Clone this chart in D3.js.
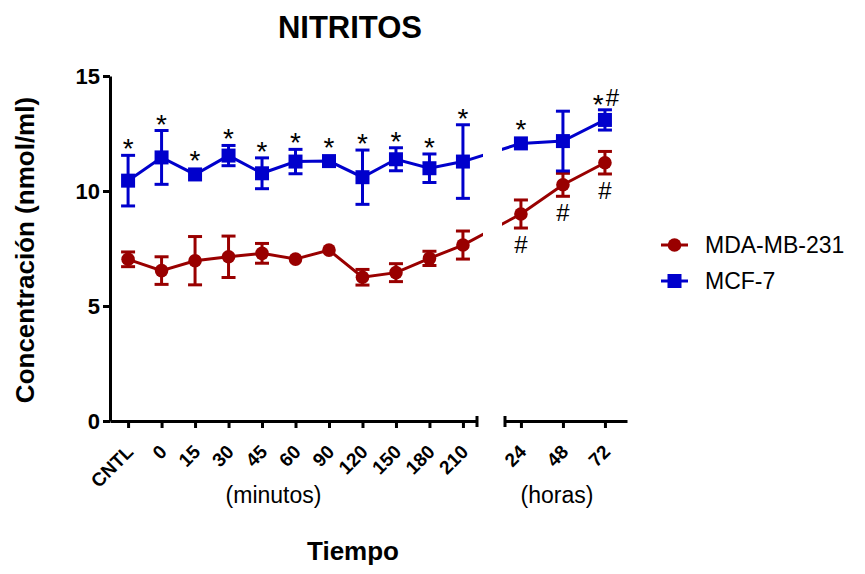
<!DOCTYPE html>
<html>
<head>
<meta charset="utf-8">
<script src="https://cdn.jsdelivr.net/npm/d3@7"></script>
<style>
  body { margin: 0; background: #fff; }
  svg { display: block; font-family: Arial, "Liberation Sans", sans-serif; }
</style>
</head>
<body>
<svg id="chart" width="865" height="574"></svg>
<script>
// x categories: minutes block, then hours block (axis break between them)
const minuteLabels = ["CNTL", "0", "15", "30", "45", "60", "90", "120", "150", "180", "210"];
const hourValues = [24, 48, 72];
const yTicks = [0, 5, 10, 15];

// MDA-MB-231 (mean, SEM)
const mdaMean = [7.03, 6.54, 6.97, 7.14, 7.29, 7.04, 7.43, 6.25, 6.45, 7.07, 7.65, 9.0, 10.27, 11.23];
const mdaErr  = [0.32, 0.6, 1.05, 0.9, 0.43, 0, 0, 0.34, 0.39, 0.31, 0.61, 0.61, 0.5, 0.49];
const mdaSig  = ["", "", "", "", "", "", "", "", "", "", "", "#", "#", "#"];

// MCF-7
const mcfMean = [10.45, 11.46, 10.72, 11.54, 10.77, 11.28, 11.3, 10.6, 11.38, 10.99, 11.28, 12.07, 12.17, 13.09];
const mcfErr  = [1.1, 1.17, 0, 0.44, 0.67, 0.53, 0, 1.18, 0.5, 0.62, 1.6, 0, 1.3, 0.44];
const mcfSig  = ["*", "*", "*", "*", "*", "*", "*", "*", "*", "*", "*", "*", "", "*#"];

const red = "#990000";
const blue = "#0000cc";

const svg = d3.select("#chart");

// scales
const y = d3.scaleLinear().domain([0, 15]).range([421, 76]);
const xMin = d3.scaleLinear().domain([-0.54, 10.42]).range([110, 477]);
const xHr = d3.scaleLinear().domain([14.9, 84.6]).range([505, 627]);

// position of the i-th point across both blocks
const xPos = i => i < minuteLabels.length ? xMin(i) : xHr(hourValues[i - minuteLabels.length]);

// title
svg.append("text")
  .attr("x", 350).attr("y", 38)
  .attr("text-anchor", "middle")
  .attr("font-size", 31).attr("font-weight", "bold")
  .text("NITRITOS");

// y axis
const yAxis = svg.append("g")
  .attr("transform", "translate(110,0)")
  .call(d3.axisLeft(y).tickValues(yTicks).tickSize(7).tickSizeOuter(0).tickPadding(3));
yAxis.selectAll("path, line").attr("stroke", "#000").attr("stroke-width", 3);
yAxis.selectAll("text").attr("font-size", 22).attr("font-weight", "bold")
  .attr("font-family", "Arial, 'Liberation Sans', sans-serif").attr("fill", "#000");

// x axis, minutes
const xAxisMin = svg.append("g")
  .attr("transform", "translate(0,421)")
  .call(d3.axisBottom(xMin).tickValues(d3.range(minuteLabels.length))
    .tickFormat(i => minuteLabels[i]).tickSize(7).tickSizeOuter(0));

// x axis, hours
const xAxisHr = svg.append("g")
  .attr("transform", "translate(0,421)")
  .call(d3.axisBottom(xHr).tickValues(hourValues).tickSize(7).tickSizeOuter(0));

[xAxisMin, xAxisHr].forEach(g => {
  g.selectAll("path, line").attr("stroke", "#000").attr("stroke-width", 3);
  g.selectAll("text")
    .attr("y", null).attr("dy", null)
    .attr("text-anchor", "end")
    .attr("transform", "translate(6,32) rotate(-45)")
    .attr("font-size", 19).attr("font-weight", "bold")
    .attr("font-family", "Arial, 'Liberation Sans', sans-serif").attr("fill", "#000");
});

// break caps at the axis gap
svg.append("g").selectAll("line")
  .data([xMin.range()[1], xHr.range()[0]])
  .join("line")
  .attr("x1", d => d).attr("x2", d => d)
  .attr("y1", 416).attr("y2", 427)
  .attr("stroke", "#000").attr("stroke-width", 3);

// axis titles
svg.append("text")
  .attr("transform", "translate(34,250) rotate(-90)")
  .attr("text-anchor", "middle")
  .attr("font-size", 26).attr("font-weight", "bold")
  .text("Concentración (nmol/ml)");

svg.append("text")
  .attr("x", (xMin(0) + xMin(10)) / 2 - 22).attr("y", 503)
  .attr("text-anchor", "middle").attr("font-size", 23)
  .text("(minutos)");

svg.append("text")
  .attr("x", xHr(48) - 6).attr("y", 503)
  .attr("text-anchor", "middle").attr("font-size", 23)
  .text("(horas)");

svg.append("text")
  .attr("x", 353).attr("y", 560)
  .attr("text-anchor", "middle")
  .attr("font-size", 26).attr("font-weight", "bold")
  .text("Tiempo");

// clip so the connecting line has a gap at the break
const defs = svg.append("defs");
const clip = defs.append("clipPath").attr("id", "gap");
clip.append("rect").attr("x", 0).attr("y", 0).attr("width", 483).attr("height", 574);
clip.append("rect").attr("x", 502).attr("y", 0).attr("width", 363).attr("height", 574);

const series = [
  { name: "MDA-MB-231", mean: mdaMean, err: mdaErr, sig: mdaSig, color: red, shape: "circle" },
  { name: "MCF-7", mean: mcfMean, err: mcfErr, sig: mcfSig, color: blue, shape: "square" }
];

const line = d3.line().x((d, i) => xPos(i)).y(d => y(d));
const capW = 7;

series.forEach(s => {
  const g = svg.append("g");

  g.append("path")
    .datum(s.mean)
    .attr("clip-path", "url(#gap)")
    .attr("fill", "none")
    .attr("stroke", s.color)
    .attr("stroke-width", 3)
    .attr("d", line);

  const pts = s.mean.map((m, i) => ({ i, m, e: s.err[i], sig: s.sig[i] }));

  // error bars
  const eb = g.selectAll(".eb").data(pts.filter(d => d.e > 0)).join("g")
    .attr("stroke", s.color).attr("stroke-width", 3);
  eb.append("line")
    .attr("x1", d => xPos(d.i)).attr("x2", d => xPos(d.i))
    .attr("y1", d => y(d.m + d.e)).attr("y2", d => y(d.m - d.e));
  eb.append("line")
    .attr("x1", d => xPos(d.i) - capW).attr("x2", d => xPos(d.i) + capW)
    .attr("y1", d => y(d.m + d.e)).attr("y2", d => y(d.m + d.e));
  eb.append("line")
    .attr("x1", d => xPos(d.i) - capW).attr("x2", d => xPos(d.i) + capW)
    .attr("y1", d => y(d.m - d.e)).attr("y2", d => y(d.m - d.e));

  // markers
  if (s.shape === "circle") {
    g.selectAll("circle").data(pts).join("circle")
      .attr("cx", d => xPos(d.i)).attr("cy", d => y(d.m))
      .attr("r", 6.8).attr("fill", s.color);
  } else {
    g.selectAll("rect").data(pts).join("rect")
      .attr("x", d => xPos(d.i) - 7).attr("y", d => y(d.m) - 7)
      .attr("width", 14).attr("height", 14).attr("fill", s.color);
  }

  // significance marks: MCF-7 above, MDA-MB-231 below
  const marks = g.selectAll(".sig").data(pts.filter(d => d.sig)).join("text")
    .attr("class", "sig")
    .attr("x", d => xPos(d.i) + (d.sig.length > 1 ? 1 : 0))
    .attr("y", d => {
      if (s.shape === "square") {
        const top = Math.min(y(d.m + d.e), y(d.m) - 7);
        return d.sig.includes("#") ? top - 4 : top + 3;
      }
      const bottom = Math.max(y(d.m - d.e), y(d.m) + 7);
      return bottom + 25;
    })
    .attr("text-anchor", "middle")
    .attr("fill", "#000");

  marks.each(function (d) {
    const t = d3.select(this);
    if (d.sig === "*#") {
      t.append("tspan").attr("font-size", 28).attr("dy", 8).text("*");
      t.append("tspan").attr("font-size", 24).attr("dy", -8).attr("dx", 2).text("#");
    } else {
      t.attr("font-size", d.sig === "*" ? 28 : 24).text(d.sig);
    }
  });
});

// legend
const legend = svg.append("g");
series.forEach((s, k) => {
  const ly = 245 + k * 36;
  legend.append("line")
    .attr("x1", 661).attr("x2", 688).attr("y1", ly).attr("y2", ly)
    .attr("stroke", s.color).attr("stroke-width", 3);
  if (s.shape === "circle") {
    legend.append("circle").attr("cx", 674.5).attr("cy", ly).attr("r", 6.8).attr("fill", s.color);
  } else {
    legend.append("rect").attr("x", 667.5).attr("y", ly - 7).attr("width", 14).attr("height", 14).attr("fill", s.color);
  }
  legend.append("text")
    .attr("x", 705).attr("y", ly + 8)
    .attr("font-size", 23)
    .text(s.name);
});
</script>
</body>
</html>
